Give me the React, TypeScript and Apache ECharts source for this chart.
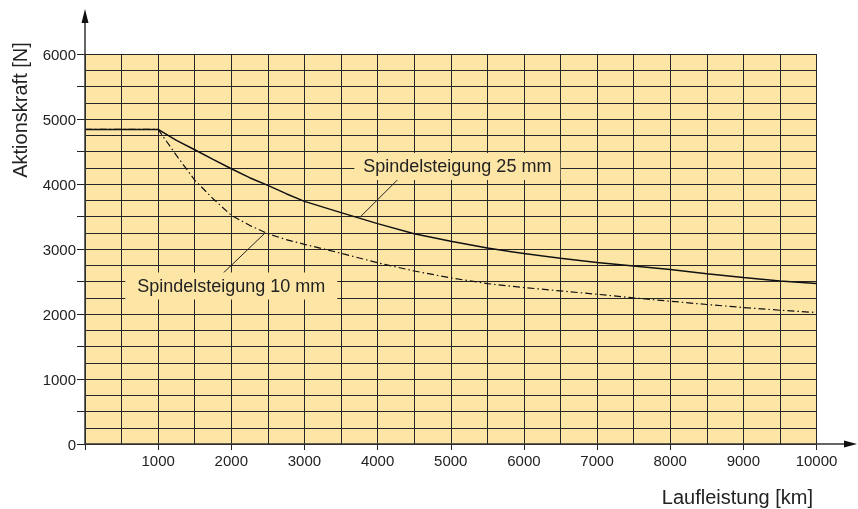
import React, { useEffect, useRef } from "react";
import * as echarts from "echarts";

// Laufleistung [km]
const distanceKm = [0, 1000, 1250, 1500, 1750, 2000, 2250, 2500, 2750, 3000, 3500, 4000, 4500, 5000, 5500, 6000, 6500, 7000, 7500, 8000, 8500, 9000, 9500, 10000];
// Aktionskraft [N], Spindelsteigung 25 mm
const pitch25 = [4840, 4840, 4670, 4527, 4378, 4235, 4097, 3978, 3851, 3733, 3560, 3390, 3235, 3118, 3016, 2929, 2857, 2791, 2737, 2683, 2620, 2560, 2509, 2468];
// Aktionskraft [N], Spindelsteigung 10 mm
const pitch10 = [4840, 4840, 4439, 4060, 3774, 3518, 3364, 3236, 3144, 3072, 2935, 2788, 2662, 2555, 2468, 2407, 2355, 2304, 2248, 2197, 2146, 2100, 2058, 2023];

const seriesNames = ["Spindelsteigung 25 mm", "Spindelsteigung 10 mm"];
// annotation anchors in data coordinates: [label centre], [leader start], [leader end on curve]
const label25 = [5090, 4270];
const leader25 = [[4300, 4095], [3760, 3490]];
const label10 = [2000, 2430];
const leader10 = [[1890, 2630], [2460, 3245]];

const xTitle = "Laufleistung [km]";
const yTitle = "Aktionskraft [N]";

const FONT = "'Liberation Sans', Arial, Helvetica, sans-serif";
const BG = "#FDE5A6";
const GRID = "#262626";
const INK = "#222222";

const G_LEFT = 85;
const G_TOP = 54;
const G_RIGHT_PX = 816.5;
const G_BOTTOM_PX = 444;

export default function App() {
  const ref = useRef<HTMLDivElement>(null);
  useEffect(() => {
    if (!ref.current) return;
    const chart = echarts.init(ref.current, undefined, { renderer: "svg", width: 858, height: 509 });
    const toPairs = (ys: number[]) => distanceKm.map((x, i) => [x, ys[i]]);
    const splitStyle = { show: true, lineStyle: { color: GRID, width: 1 } };
    const markBox = (pos: number[], text: string, w: number) => ({
      symbol: "rect",
      symbolSize: [w, 27],
      silent: true,
      itemStyle: { color: BG },
      label: { show: true, position: "inside", formatter: text, color: INK, fontSize: 18, fontFamily: FONT },
      data: [{ coord: pos }],
    });
    const markLead = (seg: number[][]) => ({
      symbol: "none",
      silent: true,
      label: { show: false },
      lineStyle: { color: INK, width: 1, type: "solid" },
      data: [[{ coord: seg[0] }, { coord: seg[1] }]],
    });
    chart.setOption({
      animation: false,
      textStyle: { fontFamily: FONT },
      grid: {
        left: G_LEFT,
        top: G_TOP,
        right: 858 - G_RIGHT_PX,
        bottom: 509 - G_BOTTOM_PX,
        show: true,
        backgroundColor: BG,
        borderWidth: 0,
      },
      xAxis: {
        type: "value",
        min: 0,
        max: 10000,
        interval: 1000,
        axisLine: { show: false },
        axisTick: { show: true, length: 6, lineStyle: { color: INK } },
        axisLabel: { margin: 9, color: INK, fontSize: 15, fontFamily: FONT, formatter: (v: number) => (v === 0 ? "" : String(v)) },
        splitLine: splitStyle,
        minorTick: { show: false, splitNumber: 2 },
        minorSplitLine: splitStyle,
      },
      yAxis: {
        type: "value",
        min: 0,
        max: 6000,
        interval: 500,
        axisLine: { show: false },
        axisTick: { show: true, length: 8, lineStyle: { color: INK } },
        axisLabel: { margin: 9, color: INK, fontSize: 15, fontFamily: FONT, formatter: (v: number) => (v % 1000 === 0 ? String(v) : "") },
        splitLine: splitStyle,
        minorTick: { show: false, splitNumber: 2 },
        minorSplitLine: splitStyle,
      },
      series: [
        {
          name: seriesNames[0],
          type: "line",
          data: toPairs(pitch25),
          showSymbol: false,
          symbol: "none",
          lineStyle: { color: "#111", width: 1.5 },
          z: 3,
          markLine: markLead(leader25),
          markPoint: markBox(label25, seriesNames[0], 206),
        },
        {
          name: seriesNames[1],
          type: "line",
          data: toPairs(pitch10),
          showSymbol: false,
          symbol: "none",
          lineStyle: { color: "#111", width: 1.2, type: [7, 3, 1.5, 3] },
          z: 3,
          markLine: markLead(leader10),
          markPoint: markBox(label10, seriesNames[1], 212),
        },
      ],
      graphic: [
        { type: "line", shape: { x1: G_LEFT, y1: G_BOTTOM_PX, x2: G_LEFT, y2: 20 }, style: { stroke: "#333", lineWidth: 1.5 }, z: 10 },
        { type: "polygon", shape: { points: [[G_LEFT, 9], [G_LEFT - 3.5, 23], [G_LEFT + 3.5, 23]] }, style: { fill: "#111" }, z: 10 },
        { type: "line", shape: { x1: G_LEFT, y1: G_BOTTOM_PX, x2: 848, y2: G_BOTTOM_PX }, style: { stroke: "#333", lineWidth: 1.5 }, z: 10 },
        { type: "polygon", shape: { points: [[857, G_BOTTOM_PX], [844, G_BOTTOM_PX - 3.5], [844, G_BOTTOM_PX + 3.5]] }, style: { fill: "#111" }, z: 10 },
        {
          type: "text",
          x: 813,
          y: 497,
          style: { text: xTitle, fill: INK, font: `20px ${FONT}`, align: "right", verticalAlign: "middle" },
        },
        {
          type: "text",
          x: 20,
          y: 110,
          rotation: Math.PI / 2,
          style: { text: yTitle, fill: INK, font: `20px ${FONT}`, align: "center", verticalAlign: "middle" },
        },
      ],
    });
    return () => chart.dispose();
  }, []);
  return <div ref={ref} style={{ position: "fixed", left: 0, top: 0, width: 858, height: 509 }} />;
}
